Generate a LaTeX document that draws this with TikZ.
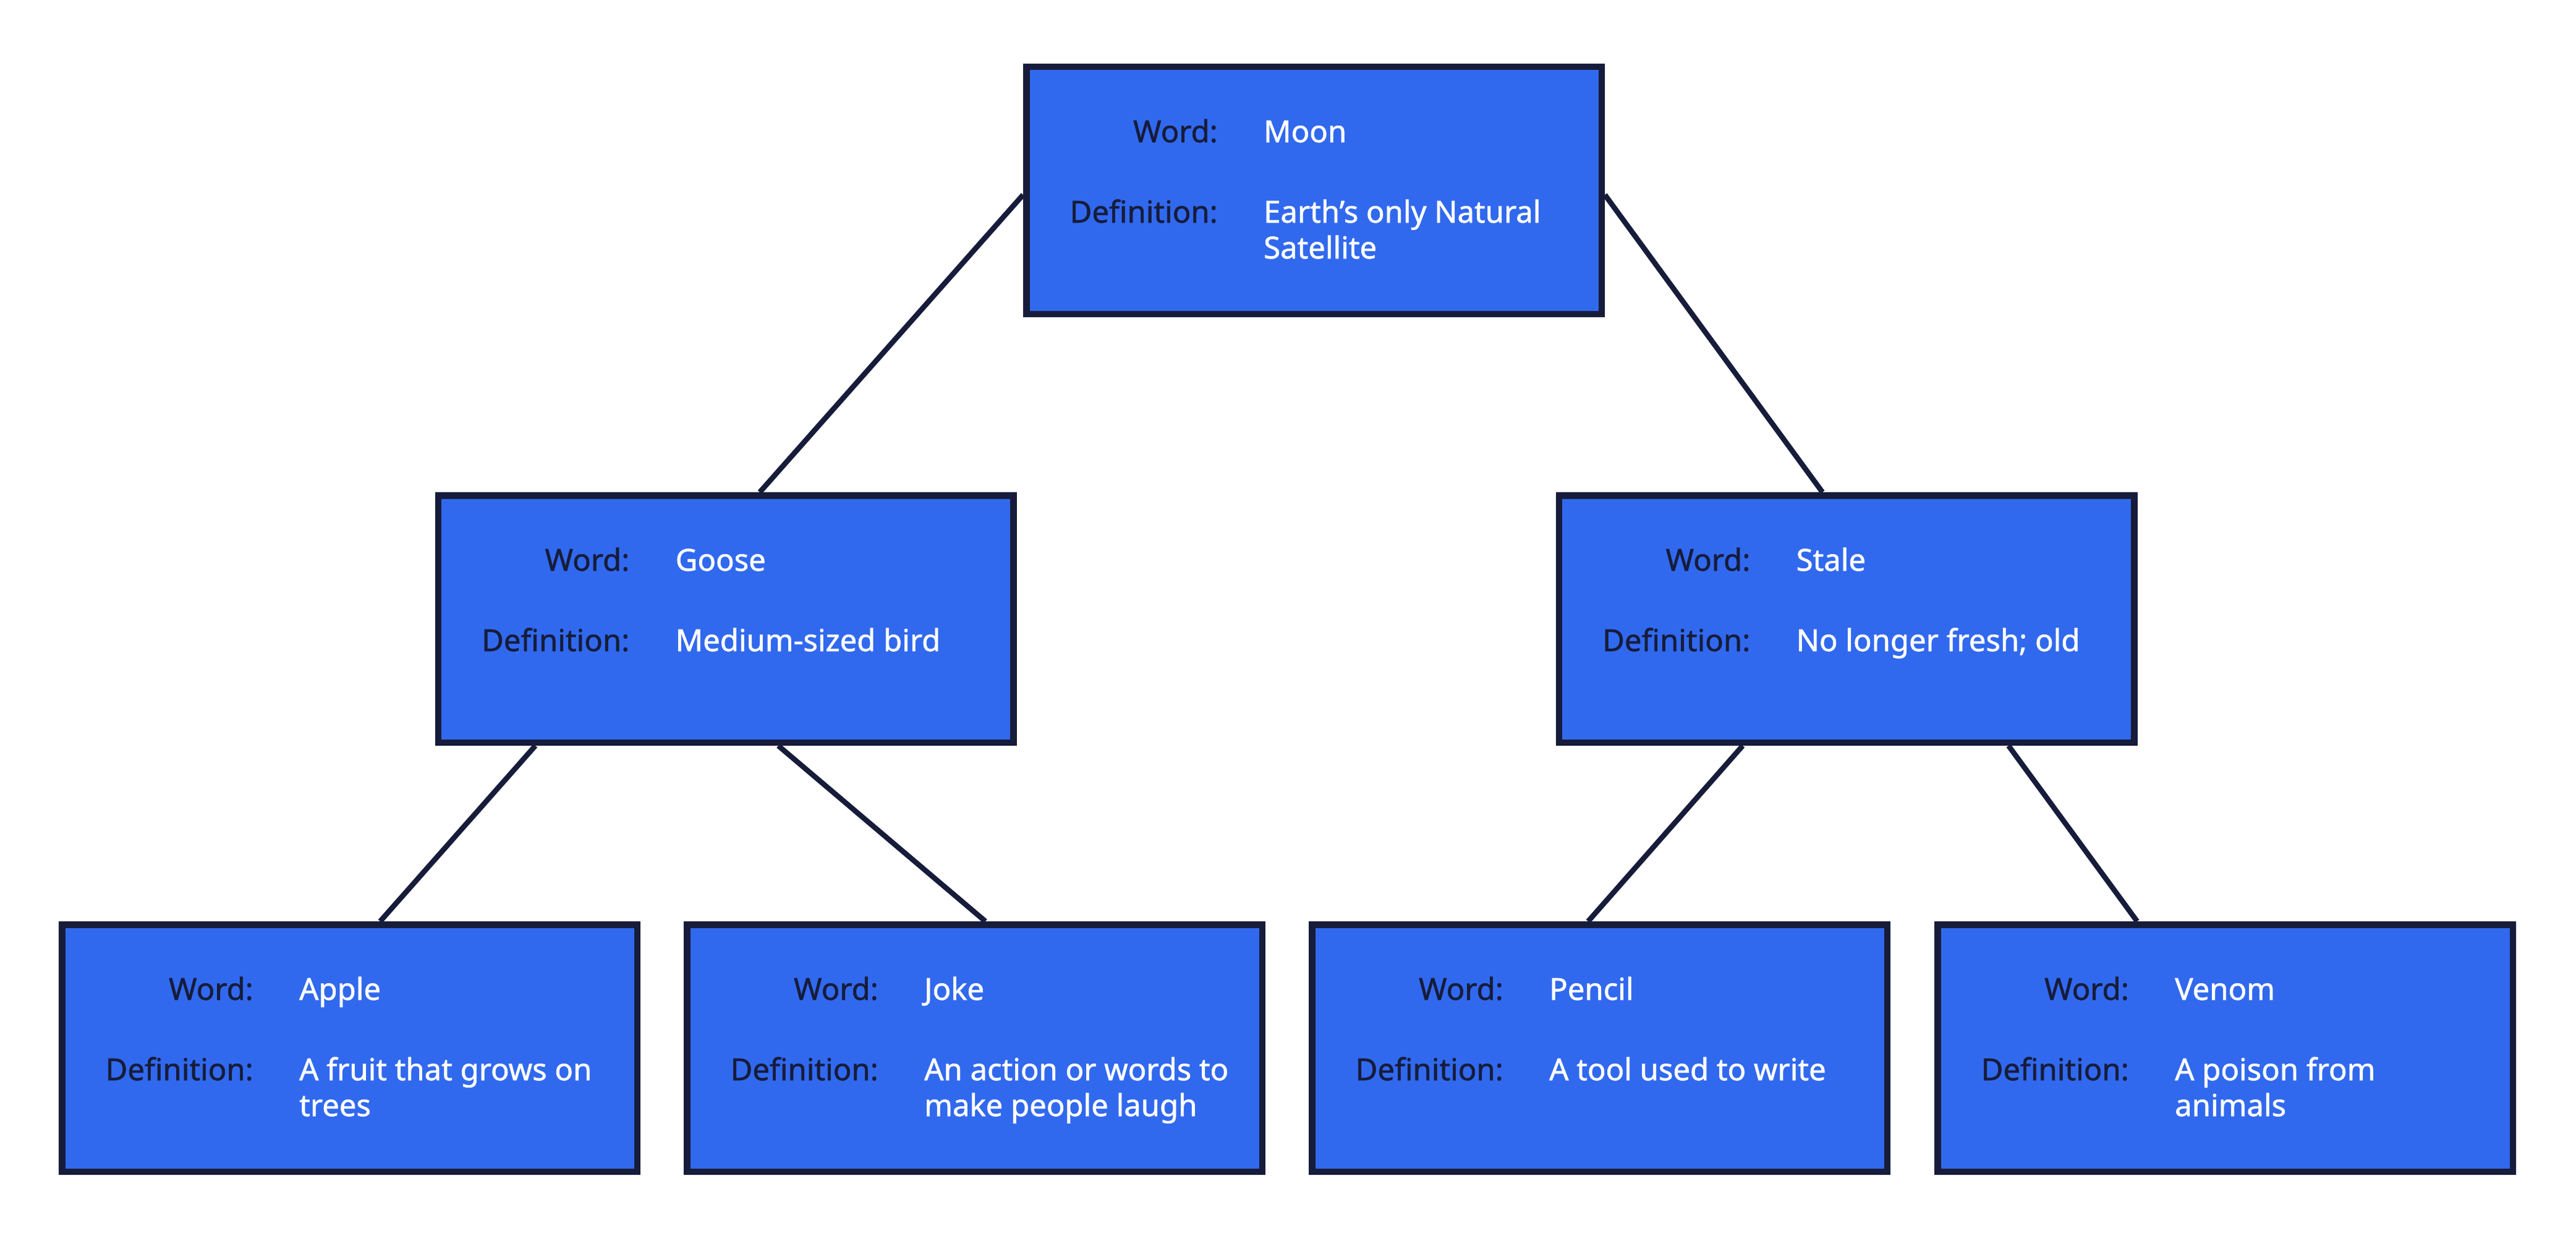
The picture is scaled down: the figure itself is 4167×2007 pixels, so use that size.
\documentclass[tikz,border=0pt]{standalone}
\usepackage{fontspec}
\newfontfamily\cardfont{Noto Sans}[FakeBold=1.2]
\usetikzlibrary{backgrounds}
\definecolor{edgenavy}{HTML}{161C3A}
\definecolor{cardblue}{HTML}{3169EE}
\tikzset{
  card/.style={rectangle, draw=edgenavy, fill=cardblue, line width=10.5pt,
    minimum width=930.5pt, minimum height=399.5pt, inner sep=0pt},
  lbl/.style={anchor=base east, inner sep=0pt, text=edgenavy,
    font=\cardfont\fontsize{49}{58}\selectfont},
  val/.style={anchor=base west, inner sep=0pt, text=white,
    font=\cardfont\fontsize{49}{58}\selectfont},
  link/.style={draw=edgenavy, line width=8.5pt}
}
\newcommand\twoln[2]{\vtop{\hbox{#1}\hbox{#2}}}
\newcommand\wordcard[5]{%
  \node[card] (#1) at (#2,#3) {};
  \node[lbl] (#1wl) at ([xshift=-155.5pt,yshift=78pt]#1.center) {Word:};
  \node[val] (#1wv) at ([xshift=-81.5pt,yshift=78pt]#1.center) {#4};
  \node[lbl] (#1dl) at ([xshift=-155.5pt,yshift=-52pt]#1.center) {Definition:};
  \node[val] (#1dv) at ([xshift=-81.5pt,yshift=-52pt]#1.center) {#5};
}
\begin{document}
\begin{tikzpicture}[x=1pt,y=-1pt]
\useasboundingbox (0,0) rectangle (4167,2007);
\wordcard{moon}{2125.5}{308}{Moon}{\twoln{Earth’s only Natural}{Satellite}}
\wordcard{goose}{1174}{1001}{Goose}{Medium-sized bird}
\wordcard{stale}{2987}{1001}{Stale}{No longer fresh; old}
\wordcard{apple}{565.5}{1695}{Apple}{\twoln{A fruit that grows on}{trees}}
\wordcard{joke}{1576.5}{1695}{Joke}{\twoln{An action or words to}{make people laugh}}
\wordcard{pencil}{2587.5}{1695}{Pencil}{A tool used to write}
\wordcard{venom}{3599.5}{1695}{Venom}{\twoln{A poison from}{animals}}
\begin{scope}[on background layer]
\draw[link] ([yshift=-7pt]moon.west) -- ([xshift=55pt]goose.north);
\draw[link] ([yshift=-7pt]moon.east) -- ([xshift=-39pt]stale.north);
\draw[link] ([xshift=-308pt]goose.south) -- ([xshift=49.5pt]apple.north);
\draw[link] ([xshift=85pt]goose.south) -- ([xshift=17.5pt]joke.north);
\draw[link] ([xshift=-168pt]stale.south) -- ([xshift=-18.5pt]pencil.north);
\draw[link] ([xshift=262pt]stale.south) -- ([xshift=-142.5pt]venom.north);
\end{scope}
\end{tikzpicture}
\end{document}
